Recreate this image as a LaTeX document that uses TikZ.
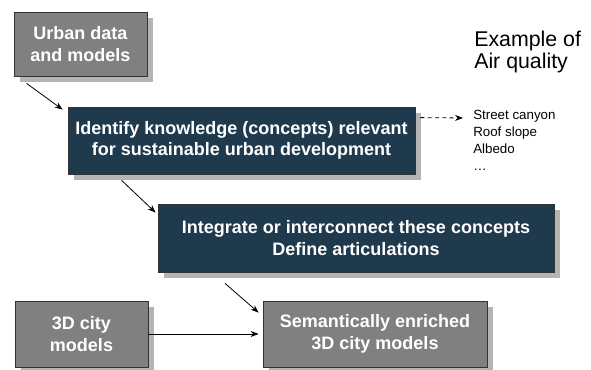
\documentclass[tikz,border=0pt]{standalone}
\usepackage{fontspec}
\setsansfont{Liberation Sans}
\usetikzlibrary{arrows.meta,shadows}

\definecolor{boxgray}{HTML}{808080}
\definecolor{boxnavy}{HTML}{1F3A4D}
\definecolor{shadowgray}{HTML}{B4B4B4}

\tikzset{
  box/.style={draw=black!80, line width=0.6pt, text=white, align=center,
    font=\sffamily\bfseries\fontsize{13.5}{16}\selectfont, inner sep=0pt,
    drop shadow={shadow xshift=4.5pt, shadow yshift=-4.5pt, fill=shadowgray, opacity=1}},
  graybox/.style={box, fill=boxgray},
  navybox/.style={box, fill=boxnavy},
  flow/.style={-{Stealth[length=6pt,width=4.5pt]}, line width=0.6pt, black},
  note/.style={anchor=north west, align=left, inner sep=0pt, font=\sffamily},
}

\begin{document}
\begin{tikzpicture}[x=0.75pt, y=-0.75pt]
    \useasboundingbox (0, 0) rectangle (591, 370);
    % boxes
    \node [graybox, minimum width=133*0.75pt, minimum height=64*0.75pt] (urban) at (80.5, 44)
      {Urban data\\and models};
    \node [navybox, minimum width=347*0.75pt, minimum height=67*0.75pt] (identify) at (241.5, 140.5)
      {Identify knowledge (concepts) relevant\\for sustainable urban development};
    \node [navybox, minimum width=396*0.75pt, minimum height=68*0.75pt] (integrate) at (356, 238)
      {Integrate or interconnect these concepts\\Define articulations};
    \node [graybox, minimum width=133*0.75pt, minimum height=66*0.75pt] (city) at (81.5, 334)
      {3D city\\models};
    \node [graybox, minimum width=224*0.75pt, minimum height=66*0.75pt] (enriched) at (375, 334)
      {Semantically enriched\\3D city models};
    %
    \node [note, font=\sffamily\fontsize{16}{16.5}\selectfont] (example) at (474, 31)
      {Example of\\Air quality};
    \node [note, font=\sffamily\fontsize{10}{12.75}\selectfont] (params) at (473, 110)
      {Street canyon\\Roof slope\\Albedo\\\dots};
    % connectors
    \draw [flow] ([xshift=13*0.75pt, yshift=-7*0.75pt]urban.south west)
      -- ([xshift=-5*0.75pt, yshift=-3*0.75pt]identify.north west);
    \draw [flow] ([xshift=54*0.75pt, yshift=-6*0.75pt]identify.south west)
      -- ([xshift=-2*0.75pt, yshift=-9*0.75pt]integrate.north west);
    \draw [flow] ([xshift=-131*0.75pt, yshift=-11*0.75pt]integrate.south)
      -- ([xshift=-4*0.75pt, yshift=-12*0.75pt]enriched.north west);
    \draw [flow] (city.east) -- ([xshift=-4*0.75pt]enriched.west |- city.east);
    \draw [flow, dash pattern=on 3pt off 2.5pt] ([xshift=5*0.75pt, yshift=-11*0.75pt]identify.north east)
      -- ([xshift=-10*0.75pt, yshift=-8*0.75pt]params.north west);
\end{tikzpicture}
\end{document}
